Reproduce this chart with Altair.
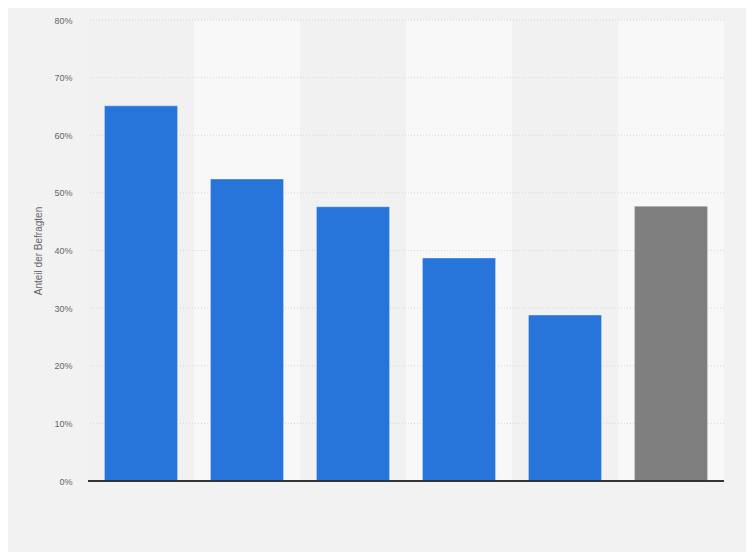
import altair as alt
import pandas as pd

categories = ["A", "B", "C", "D", "E", "F"]
values = [65.1, 52.4, 47.6, 38.7, 28.8, 47.7]
bar_colors = ["#2775db", "#2775db", "#2775db", "#2775db", "#2775db", "#7f7f7f"]
band_colors = ["#f1f1f1", "#f8f8f8", "#f1f1f1", "#f8f8f8", "#f1f1f1", "#f8f8f8"]
tick_values = [0, 10, 20, 30, 40, 50, 60, 70, 80]

df = pd.DataFrame({"cat": categories, "val": values, "color": bar_colors, "band": band_colors})
grid_df = pd.DataFrame({"t": tick_values[1:]})

W, H = 636, 461
yscale = alt.Scale(domain=[0, 80], nice=False)
yaxis = alt.Axis(values=tick_values,
                 labelExpr="datum.value + '%'",
                 title="Anteil der Befragten",
                 titleFontSize=10, titleFontWeight="normal", titleColor="#666666",
                 titleFont="Arial", titlePadding=10,
                 labelFont="Arial", labelFontSize=9, labelColor="#666666",
                 labelPadding=16, ticks=False, domain=False, grid=False)

bands = alt.Chart(df).mark_rect().encode(
    x=alt.X("cat:N", sort=categories, axis=None, scale=alt.Scale(paddingInner=0, paddingOuter=0)),
    color=alt.Color("band:N", scale=None),
)

grid = alt.Chart(grid_df).mark_rule(color="#d6d6d6", strokeWidth=1, strokeDash=[1, 2]).encode(
    y=alt.Y("t:Q", scale=yscale, axis=yaxis),
)

bars = alt.Chart(df).mark_bar(strokeWidth=1, strokeOpacity=0.35, stroke="#ffffff").encode(
    x=alt.X("cat:N", sort=categories, axis=None,
            scale=alt.Scale(paddingInner=0.31, paddingOuter=0.155)),
    y=alt.Y("val:Q", scale=yscale, axis=yaxis),
    color=alt.Color("color:N", scale=None),
)

baseline = alt.Chart(df).mark_rule(color="#333333", strokeWidth=1).encode(
    x=alt.value(0), x2=alt.value(W), y=alt.value(H)
)

chart = alt.layer(bands, grid, bars, baseline).resolve_scale(x="independent").properties(
    width=W, height=H,
    autosize=alt.AutoSizeParams(type="none"),
    padding={"left": 80, "top": 12, "right": 22, "bottom": 71},
    background="#f2f2f2",
).configure_view(stroke=None)

chart.save("out.html", embed_options={"renderer": "svg", "actions": False})
